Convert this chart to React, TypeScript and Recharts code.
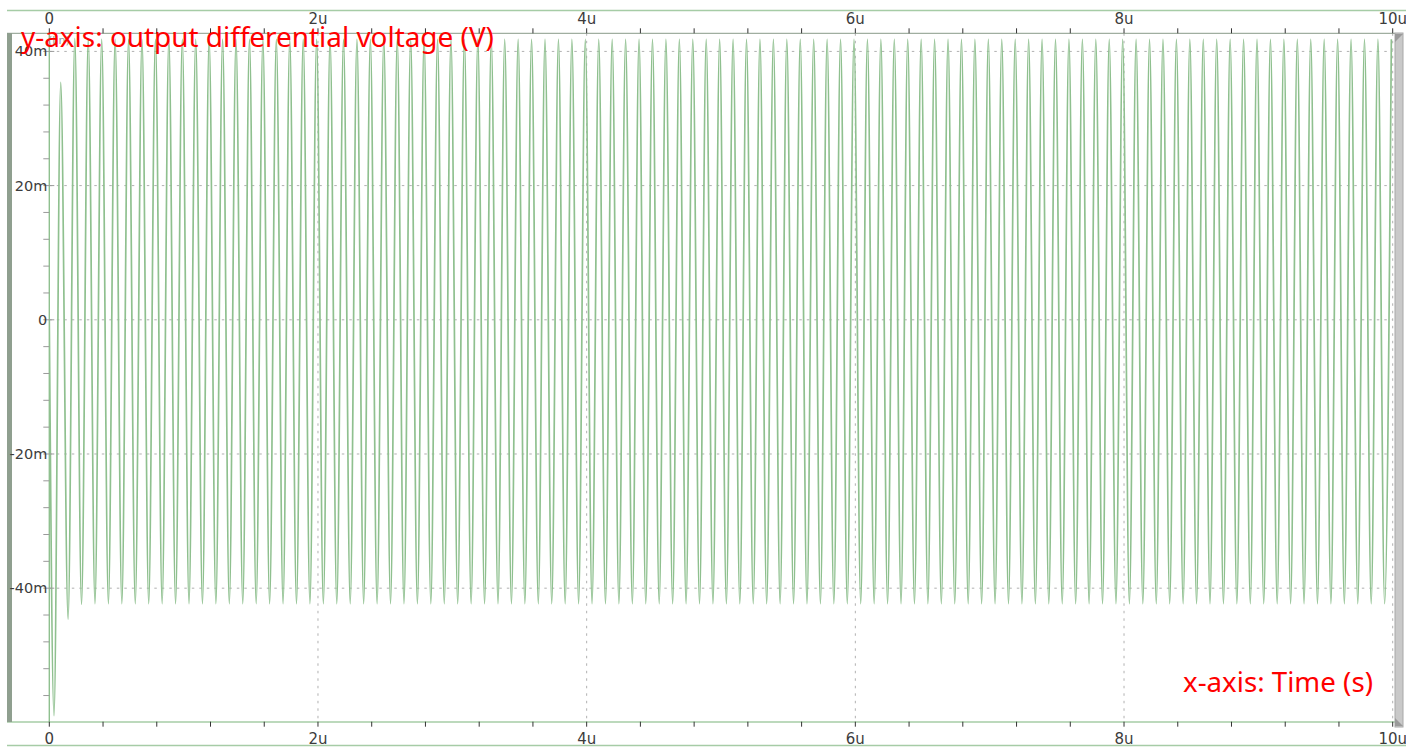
import { LineChart, Line, XAxis, YAxis, CartesianGrid } from "recharts";

// time in µs, voltage in mV
const startT = [0];
const startV = [0];

// one trough per cycle (~10 MHz), the peak follows half a period later
const HALF = 0.05;
const troughT = [
  0.035, 0.14, 0.24, 0.34, 0.44, 0.54, 0.64, 0.74, 0.84, 0.94,
  1.04, 1.14, 1.24, 1.34, 1.44, 1.54, 1.64, 1.74, 1.84, 1.94,
  2.04, 2.14, 2.24, 2.34, 2.44, 2.54, 2.64, 2.74, 2.84, 2.94,
  3.04, 3.14, 3.24, 3.34, 3.44, 3.54, 3.64, 3.74, 3.84, 3.94,
  4.04, 4.14, 4.24, 4.34, 4.44, 4.54, 4.64, 4.74, 4.84, 4.94,
  5.04, 5.14, 5.24, 5.34, 5.44, 5.54, 5.64, 5.74, 5.84, 5.94,
  6.04, 6.14, 6.24, 6.34, 6.44, 6.54, 6.64, 6.74, 6.84, 6.94,
  7.04, 7.14, 7.24, 7.34, 7.44, 7.54, 7.64, 7.74, 7.84, 7.94,
  8.04, 8.14, 8.24, 8.34, 8.44, 8.54, 8.64, 8.74, 8.84, 8.94,
  9.04, 9.14, 9.24, 9.34, 9.44, 9.54, 9.64, 9.74, 9.84, 9.94,
];
const troughV = [
  -59, -44.6, -42.4, -42.3, -42.3, -42.3, -42.3, -42.3, -42.3, -42.3,
  -42.3, -42.3, -42.3, -42.3, -42.3, -42.3, -42.3, -42.3, -42.3, -42.3,
  -42.3, -42.3, -42.3, -42.3, -42.3, -42.3, -42.3, -42.3, -42.3, -42.3,
  -42.3, -42.3, -42.3, -42.3, -42.3, -42.3, -42.3, -42.3, -42.3, -42.3,
  -42.3, -42.3, -42.3, -42.3, -42.3, -42.3, -42.3, -42.3, -42.3, -42.3,
  -42.3, -42.3, -42.3, -42.3, -42.3, -42.3, -42.3, -42.3, -42.3, -42.3,
  -42.3, -42.3, -42.3, -42.3, -42.3, -42.3, -42.3, -42.3, -42.3, -42.3,
  -42.3, -42.3, -42.3, -42.3, -42.3, -42.3, -42.3, -42.3, -42.3, -42.3,
  -42.3, -42.3, -42.3, -42.3, -42.3, -42.3, -42.3, -42.3, -42.3, -42.3,
  -42.3, -42.3, -42.3, -42.3, -42.3, -42.3, -42.3, -42.3, -42.3, -42.3,
];
const peakV = [
  35.4, 41.9, 41.8, 41.8, 41.8, 41.8, 41.8, 41.8, 41.8, 41.8,
  41.8, 41.8, 41.8, 41.8, 41.8, 41.8, 41.8, 41.8, 41.8, 41.8,
  41.8, 41.8, 41.8, 41.8, 41.8, 41.8, 41.8, 41.8, 41.8, 41.8,
  41.8, 41.8, 41.8, 41.8, 41.8, 41.8, 41.8, 41.8, 41.8, 41.8,
  41.8, 41.8, 41.8, 41.8, 41.8, 41.8, 41.8, 41.8, 41.8, 41.8,
  41.8, 41.8, 41.8, 41.8, 41.8, 41.8, 41.8, 41.8, 41.8, 41.8,
  41.8, 41.8, 41.8, 41.8, 41.8, 41.8, 41.8, 41.8, 41.8, 41.8,
  41.8, 41.8, 41.8, 41.8, 41.8, 41.8, 41.8, 41.8, 41.8, 41.8,
  41.8, 41.8, 41.8, 41.8, 41.8, 41.8, 41.8, 41.8, 41.8, 41.8,
  41.8, 41.8, 41.8, 41.8, 41.8, 41.8, 41.8, 41.8, 41.8, 41.8,
];

const xTicks = [0, 0.4, 0.8, 1.2, 1.6, 2, 2.4, 2.8, 3.2, 3.6, 4, 4.4, 4.8, 5.2, 5.6, 6, 6.4, 6.8, 7.2, 7.6, 8, 8.4, 8.8, 9.2, 9.6, 10];
const xMajor = [0, 2, 4, 6, 8, 10];
const yTicks = [-56, -52, -48, -44, -40, -36, -32, -28, -24, -20, -16, -12, -8, -4, 0, 4, 8, 12, 16, 20, 24, 28, 32, 36, 40];
const yMajor = [-40, -20, 0, 20, 40];

const data: { t: number; v: number }[] = [];
startT.forEach((t, i) => data.push({ t, v: startV[i] }));
troughT.forEach((t, i) => {
  data.push({ t, v: troughV[i] });
  data.push({ t: t + HALF, v: peakV[i] });
});

const isMajor = (list: number[], v: number) => list.some((m) => Math.abs(m - v) < 1e-6);
const fmtX = (v: number) => (v === 0 ? "0" : `${v}u`);
const fmtY = (v: number) => (v === 0 ? "0" : `${v}m`);

const labelStyle = { fontFamily: "DejaVu Sans", fontSize: 15, fill: "#3c3c3c" };
const TRACE = "#8fc08f";
const FRAME = "#a6cca6";

const TopTick = ({ x, y, payload }: any) => (
  <g>
    <line x1={x} x2={x} y1={y} y2={y - 5} stroke="#333" strokeWidth={1} />
    {isMajor(xMajor, payload.value) && (
      <text x={x} y={y - 14} textAnchor="middle" dominantBaseline="central" {...labelStyle}>
        {fmtX(payload.value)}
      </text>
    )}
  </g>
);

const BottomTick = ({ x, y, payload }: any) => (
  <g>
    <line x1={x} x2={x} y1={y} y2={y + 5} stroke="#333" strokeWidth={1} />
    {isMajor(xMajor, payload.value) && (
      <text x={x} y={y + 17} textAnchor="middle" dominantBaseline="central" {...labelStyle}>
        {fmtX(payload.value)}
      </text>
    )}
  </g>
);

const LeftTick = ({ x, y, payload }: any) => {
  const major = isMajor(yMajor, payload.value);
  return (
    <g>
      <line x1={x - 6} x2={major ? x + 5 : x} y1={y} y2={y} stroke="#9a9a9a" strokeWidth={1} />
      {major && (
        <text x={x - 2} y={y} textAnchor="end" dominantBaseline="central" {...labelStyle} fontSize={14.5}>
          {fmtY(payload.value)}
        </text>
      )}
    </g>
  );
};

export default function App() {
  return (
    <div style={{ position: "absolute", left: 0, top: 0, width: 1418, height: 747, background: "#fff" }}>
      <svg width={1418} height={747} style={{ position: "absolute", left: 0, top: 0 }}>
        <line x1={7} x2={1406} y1={10.5} y2={10.5} stroke={FRAME} strokeWidth={1.5} />
        <line x1={7} x2={1395} y1={33.3} y2={33.3} stroke="#a0aea0" strokeWidth={1.2} />
        <line x1={7} x2={1395} y1={722} y2={722} stroke={FRAME} strokeWidth={1.5} />
        <line x1={7} x2={1406} y1={745.5} y2={745.5} stroke={FRAME} strokeWidth={1.5} />
        <rect x={7} y={33} width={5} height={689} fill="#8f9f8f" />
        <rect x={1395} y={33} width={8} height={694} fill="#c9c9c9" stroke="#a8a8a8" strokeWidth={1} />
        <polygon points="1395,34 1403,34 1395,42" fill="#9a9a9a" />
        <polygon points="1395,726 1403,726 1395,718" fill="#9a9a9a" />
      </svg>
      <div style={{ position: "absolute", left: 0, top: 0 }}>
        <LineChart width={1418} height={747} data={data} margin={{ top: 3.3, right: 25.3, bottom: 0, left: 0 }}>
          <CartesianGrid
            horizontal
            vertical
            horizontalValues={yMajor}
            verticalValues={[2, 4, 6, 8, 10]}
            stroke="#b0b0b0"
            strokeDasharray="2.5 5"
          />
          <XAxis
            dataKey="t"
            type="number"
            domain={[0, 10]}
            allowDataOverflow
            ticks={xTicks}
            interval={0}
            height={25.3}
            axisLine={false}
            tickLine={false}
            tickSize={0}
            tickMargin={0}
            tick={<BottomTick />}
          />
          <XAxis
            xAxisId="top"
            orientation="top"
            dataKey="t"
            type="number"
            domain={[0, 10]}
            allowDataOverflow
            ticks={xTicks}
            interval={0}
            height={30}
            axisLine={false}
            tickLine={false}
            tickSize={0}
            tickMargin={0}
            tick={<TopTick />}
          />
          <YAxis
            type="number"
            domain={[-59.9, 42.7]}
            allowDataOverflow
            ticks={yTicks}
            interval={0}
            width={49.3}
            axisLine={{ stroke: TRACE, strokeWidth: 1.4 }}
            tickLine={false}
            tickSize={0}
            tickMargin={0}
            tick={<LeftTick />}
          />
          <Line
            type="monotone"
            dataKey="v"
            stroke={TRACE}
            strokeWidth={1.7}
            dot={false}
            activeDot={false}
            isAnimationActive={false}
          />
        </LineChart>
      </div>
      <svg width={1418} height={747} style={{ position: "absolute", left: 0, top: 0, pointerEvents: "none" }}>
        <rect x={1406} y={0} width={12} height={747} fill="#fff" />
        <text x={48} y={44} fontFamily="DejaVu Sans" fontSize={11} fill="#9a9a9a">(lin)</text>
        <text
          x={21}
          y={47}
          fontFamily="Noto Sans"
          fontSize={27}
          fill="#ff0000"
          textLength={473}
          lengthAdjust="spacingAndGlyphs"
        >
          y-axis: output differential voltage (V)
        </text>
        <text
          x={1183}
          y={692}
          fontFamily="Noto Sans"
          fontSize={28}
          fill="#ff0000"
          textLength={190}
          lengthAdjust="spacingAndGlyphs"
        >
          x-axis: Time (s)
        </text>
      </svg>
    </div>
  );
}
